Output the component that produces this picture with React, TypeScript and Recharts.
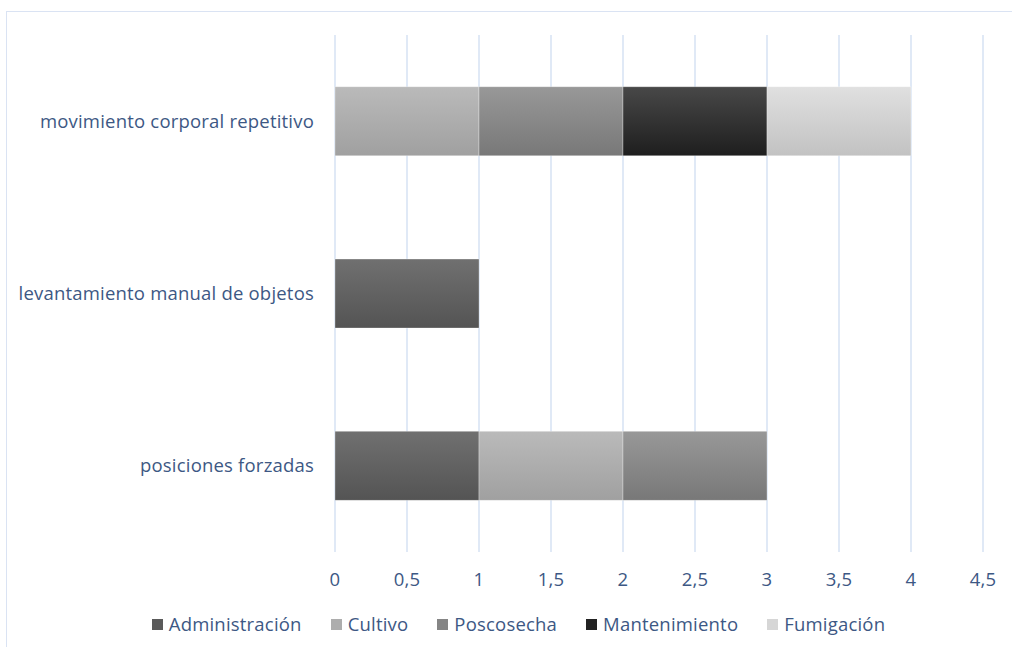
import React from 'react';
import { BarChart, Bar, XAxis, YAxis, CartesianGrid } from 'recharts';

const categories = [
  'movimiento corporal repetitivo',
  'levantamiento manual de objetos',
  'posiciones forzadas',
];
const administracion = [0, 1, 1];
const cultivo = [1, 0, 1];
const poscosecha = [1, 0, 1];
const mantenimiento = [1, 0, 0];
const fumigacion = [1, 0, 0];
const xTicks = [0, 0.5, 1, 1.5, 2, 2.5, 3, 3.5, 4, 4.5];

const seriesNames = ['Administración', 'Cultivo', 'Poscosecha', 'Mantenimiento', 'Fumigación'];
const seriesKeys = ['administracion', 'cultivo', 'poscosecha', 'mantenimiento', 'fumigacion'];
const seriesTop = ['#707070', '#bababa', '#989898', '#484848', '#e0e0e0'];
const seriesBottom = ['#545454', '#a0a0a0', '#787878', '#1e1e1e', '#c2c2c2'];
const legendColors = ['#5a5a5a', '#adadad', '#858585', '#222222', '#d6d6d6'];

const data = categories.map((name, i) => ({
  name,
  administracion: administracion[i],
  cultivo: cultivo[i],
  poscosecha: poscosecha[i],
  mantenimiento: mantenimiento[i],
  fumigacion: fumigacion[i],
}));

const TEXT = '#3d5884';
const FONT = '"Open Sans", Lato, sans-serif';
const FS = 18.5;
const LS = 0.2;

export default function App() {
  return (
    <div style={{ position: 'absolute', left: 0, top: 0, width: 1012, height: 647, overflow: 'hidden', background: '#fff', fontFamily: FONT }}>
      <div style={{ position: 'absolute', left: 6, top: 11, width: 1100, height: 700, border: '1.5px solid #dae3f3', boxSizing: 'border-box' }} />
      <div style={{ position: 'absolute', left: 0, top: 0 }}>
        <BarChart
          width={1012}
          height={647}
          data={data}
          layout="vertical"
          barCategoryGap="30%"
          margin={{ top: 35, right: 29, left: 0, bottom: 65 }}
        >
          <defs>
            {seriesKeys.map((k, i) => (
              <linearGradient key={k} id={`grad-${k}`} x1="0" y1="0" x2="0" y2="1">
                <stop offset="0%" stopColor={seriesTop[i]} />
                <stop offset="100%" stopColor={seriesBottom[i]} />
              </linearGradient>
            ))}
          </defs>
          <CartesianGrid horizontal={false} vertical={true} stroke="#d6e2f3" strokeWidth={1.5} />
          <XAxis
            type="number"
            domain={[0, 4.5]}
            ticks={xTicks}
            axisLine={false}
            tickLine={false}
            tickMargin={15}
            height={30}
            tick={{ fill: TEXT, fontSize: FS, fontFamily: FONT, letterSpacing: LS }}
            tickFormatter={(v: number) => String(v).replace('.', ',')}
          />
          <YAxis
            type="category"
            dataKey="name"
            width={335}
            axisLine={false}
            tickLine={false}
            tickMargin={15}
            tick={{ fill: TEXT, fontSize: FS, fontFamily: FONT, letterSpacing: LS }}
          />
          {seriesKeys.map((k, i) => (
            <Bar
              key={k}
              dataKey={k}
              name={seriesNames[i]}
              stackId="a"
              fill={`url(#grad-${k})`}
              stroke="rgba(255,255,255,0.3)"
              strokeWidth={1}
              isAnimationActive={false}
            />
          ))}
        </BarChart>
      </div>
      <div
        style={{
          position: 'absolute',
          left: 0,
          top: 613,
          width: 1037,
          display: 'flex',
          justifyContent: 'center',
          gap: 29,
          fontSize: FS,
          letterSpacing: LS,
          lineHeight: '22px',
          color: TEXT,
        }}
      >
        {seriesNames.map((n, i) => (
          <div key={n} style={{ display: 'flex', alignItems: 'center' }}>
            <span style={{ display: 'inline-block', width: 11, height: 11, background: legendColors[i], marginRight: 6 }} />
            <span>{n}</span>
          </div>
        ))}
      </div>
    </div>
  );
}
